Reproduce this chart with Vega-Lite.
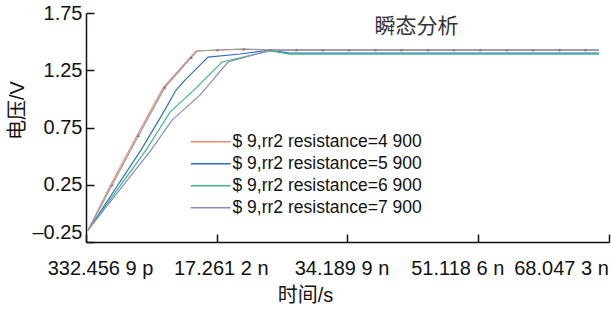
{
  "$schema": "https://vega.github.io/schema/vega-lite/v6.json",
  "width": 523,
  "height": 229,
  "autosize": {"type": "none"},
  "padding": {"left": 86, "top": 13, "right": 2, "bottom": 78},
  "background": "white",
  "title": {"text": "瞬态分析", "font": "Noto Sans CJK SC", "fontSize": 21, "fontWeight": "normal", "color": "#333333", "anchor": "middle", "baseline": "top", "offset": 0, "dx": 69, "dy": 34},
  "datasets": {
    "series": [
      {"t": 0.59, "v": -0.147, "s": "$ 9,rr2 resistance=4 900"},
      {"t": 3.54, "v": 0.25, "s": "$ 9,rr2 resistance=4 900"},
      {"t": 6.94, "v": 0.68, "s": "$ 9,rr2 resistance=4 900"},
      {"t": 10.35, "v": 1.10, "s": "$ 9,rr2 resistance=4 900"},
      {"t": 13.8, "v": 1.36, "s": "$ 9,rr2 resistance=4 900"},
      {"t": 14.6, "v": 1.418, "s": "$ 9,rr2 resistance=4 900"},
      {"t": 17.36, "v": 1.427, "s": "$ 9,rr2 resistance=4 900"},
      {"t": 20.76, "v": 1.435, "s": "$ 9,rr2 resistance=4 900"},
      {"t": 24.17, "v": 1.427, "s": "$ 9,rr2 resistance=4 900"},
      {"t": 66.75, "v": 1.427, "s": "$ 9,rr2 resistance=4 900"},
      {"t": 0.59, "v": -0.147, "s": "$ 9,rr2 resistance=5 900"},
      {"t": 7.45, "v": 0.5525, "s": "$ 9,rr2 resistance=5 900"},
      {"t": 10.30, "v": 0.876, "s": "$ 9,rr2 resistance=5 900"},
      {"t": 11.99, "v": 1.077, "s": "$ 9,rr2 resistance=5 900"},
      {"t": 13.15, "v": 1.164, "s": "$ 9,rr2 resistance=5 900"},
      {"t": 16.13, "v": 1.365, "s": "$ 9,rr2 resistance=5 900"},
      {"t": 20.27, "v": 1.392, "s": "$ 9,rr2 resistance=5 900"},
      {"t": 24.15, "v": 1.427, "s": "$ 9,rr2 resistance=5 900"},
      {"t": 26.75, "v": 1.40, "s": "$ 9,rr2 resistance=5 900"},
      {"t": 66.75, "v": 1.40, "s": "$ 9,rr2 resistance=5 900"},
      {"t": 0.59, "v": -0.147, "s": "$ 9,rr2 resistance=6 900"},
      {"t": 8.10, "v": 0.5525, "s": "$ 9,rr2 resistance=6 900"},
      {"t": 11.21, "v": 0.8846, "s": "$ 9,rr2 resistance=6 900"},
      {"t": 14.57, "v": 1.0944, "s": "$ 9,rr2 resistance=6 900"},
      {"t": 17.94, "v": 1.3217, "s": "$ 9,rr2 resistance=6 900"},
      {"t": 24.15, "v": 1.418, "s": "$ 9,rr2 resistance=6 900"},
      {"t": 26.75, "v": 1.3916, "s": "$ 9,rr2 resistance=6 900"},
      {"t": 66.75, "v": 1.3916, "s": "$ 9,rr2 resistance=6 900"},
      {"t": 0.59, "v": -0.147, "s": "$ 9,rr2 resistance=7 900"},
      {"t": 8.75, "v": 0.5525, "s": "$ 9,rr2 resistance=7 900"},
      {"t": 11.47, "v": 0.8147, "s": "$ 9,rr2 resistance=7 900"},
      {"t": 15.09, "v": 1.0332, "s": "$ 9,rr2 resistance=7 900"},
      {"t": 18.72, "v": 1.3217, "s": "$ 9,rr2 resistance=7 900"},
      {"t": 24.15, "v": 1.4266, "s": "$ 9,rr2 resistance=7 900"},
      {"t": 66.75, "v": 1.4266, "s": "$ 9,rr2 resistance=7 900"}
    ],
    "trace": [
      {"t": 0.59, "v": -0.147},
      {"t": 3.74, "v": 0.25},
      {"t": 7.14, "v": 0.68},
      {"t": 10.55, "v": 1.10},
      {"t": 13.95, "v": 1.36},
      {"t": 14.70, "v": 1.418},
      {"t": 17.36, "v": 1.427},
      {"t": 20.76, "v": 1.435},
      {"t": 24.17, "v": 1.427},
      {"t": 66.75, "v": 1.427}
    ],
    "markers": [
      {"t": 3.74, "v": 0.25},
      {"t": 7.14, "v": 0.68},
      {"t": 10.55, "v": 1.10},
      {"t": 13.95, "v": 1.36},
      {"t": 17.36, "v": 1.427},
      {"t": 20.76, "v": 1.435},
      {"t": 24.17, "v": 1.427},
      {"t": 27.57, "v": 1.427},
      {"t": 30.98, "v": 1.427},
      {"t": 34.38, "v": 1.427},
      {"t": 37.79, "v": 1.427},
      {"t": 41.19, "v": 1.427},
      {"t": 44.60, "v": 1.427},
      {"t": 48.00, "v": 1.427},
      {"t": 51.41, "v": 1.427},
      {"t": 54.81, "v": 1.427},
      {"t": 58.22, "v": 1.427},
      {"t": 61.62, "v": 1.427},
      {"t": 65.03, "v": 1.427}
    ]
  },
  "encoding": {
    "x": {
      "field": "t", "type": "quantitative",
      "scale": {"domain": [0.3325, 68.0473], "nice": false, "zero": false},
      "axis": {
        "values": [0.3325, 17.2612, 34.1899, 51.1186, 68.0473],
        "labelExpr": "datum.value < 1 ? '332.456 9 p' : datum.value < 20 ? '17.261 2 n' : datum.value < 40 ? '34.189 9 n' : datum.value < 60 ? '51.118 6 n' : '68.047 3 n'",
        "title": "时间/s",
        "titleFontSize": 20,
        "titleFontWeight": "normal",
        "titleX": 219,
        "titleY": 43,
        "titleBaseline": "top",
        "titleAlign": "center",
        "labelFontSize": 20,
        "labelPadding": 24,
        "tickSize": -8,
        "labelOverlap": false,
        "labelFlush": false,
        "labelOffset": {
          "condition": [
            {"test": "datum.value < 1", "value": 14},
            {"test": "datum.value < 20", "value": 4},
            {"test": "datum.value < 40", "value": -6},
            {"test": "datum.value < 60", "value": -21}
          ],
          "value": -48
        }
      }
    },
    "y": {
      "field": "v", "type": "quantitative",
      "scale": {"domain": [-0.25, 1.75], "nice": false, "zero": false},
      "axis": {
        "values": [-0.25, 0.25, 0.75, 1.25, 1.75],
        "labelExpr": "datum.value < 0 ? '–0.25' : format(datum.value, '.2f')",
        "title": "电压/V",
        "titleFontSize": 20,
        "titleFontWeight": "normal",
        "titleX": -59,
        "titleY": 97,
        "titleAngle": -90,
        "titleAlign": "center",
        "titleBaseline": "bottom",
        "labelFontSize": 20,
        "labelPadding": 12,
        "tickSize": -8,
        "labelOverlap": false,
        "labelFlush": false,
        "labelBaseline": {"condition": {"test": "datum.value < 0", "value": "bottom"}, "value": "middle"}
      }
    }
  },
  "layer": [
    {
      "data": {"name": "series"},
      "mark": {"type": "line", "strokeWidth": 1.2},
      "encoding": {
        "color": {
          "field": "s", "type": "nominal",
          "scale": {
            "domain": ["$ 9,rr2 resistance=4 900", "$ 9,rr2 resistance=5 900", "$ 9,rr2 resistance=6 900", "$ 9,rr2 resistance=7 900"],
            "range": ["#ee8a7c", "#2f6fc6", "#3cba82", "#8a8abf"]
          },
          "legend": {
            "orient": "none",
            "legendX": 116,
            "legendY": 120,
            "title": null,
            "symbolType": "M-4,0L4,0",
            "symbolSize": 100,
            "symbolStrokeWidth": 1.5,
            "labelOffset": 13,
            "labelFontSize": 17.5,
            "labelColor": "#111111",
            "rowPadding": 3,
            "labelLimit": 400
          }
        }
      }
    },
    {
      "data": {"name": "trace"},
      "mark": {"type": "line", "strokeWidth": 1.2, "color": "#9a9a9a"},
      "encoding": {}
    },
    {
      "data": {"name": "markers"},
      "mark": {"type": "point", "shape": "triangle-up", "size": 10, "filled": true, "color": "#7a7a7a", "opacity": 1},
      "encoding": {}
    }
  ],
  "config": {
    "font": "Liberation Sans, Noto Sans CJK SC",
    "view": {"stroke": null},
    "axis": {
      "grid": false,
      "domainColor": "#111111",
      "domainWidth": 1.5,
      "tickColor": "#111111",
      "tickWidth": 1.5,
      "labelColor": "#111111",
      "titleColor": "#111111",
      "labelFont": "Liberation Sans",
      "titleFont": "Liberation Sans, Noto Sans CJK SC"
    },
    "legend": {"labelFont": "Liberation Sans"}
  }
}
